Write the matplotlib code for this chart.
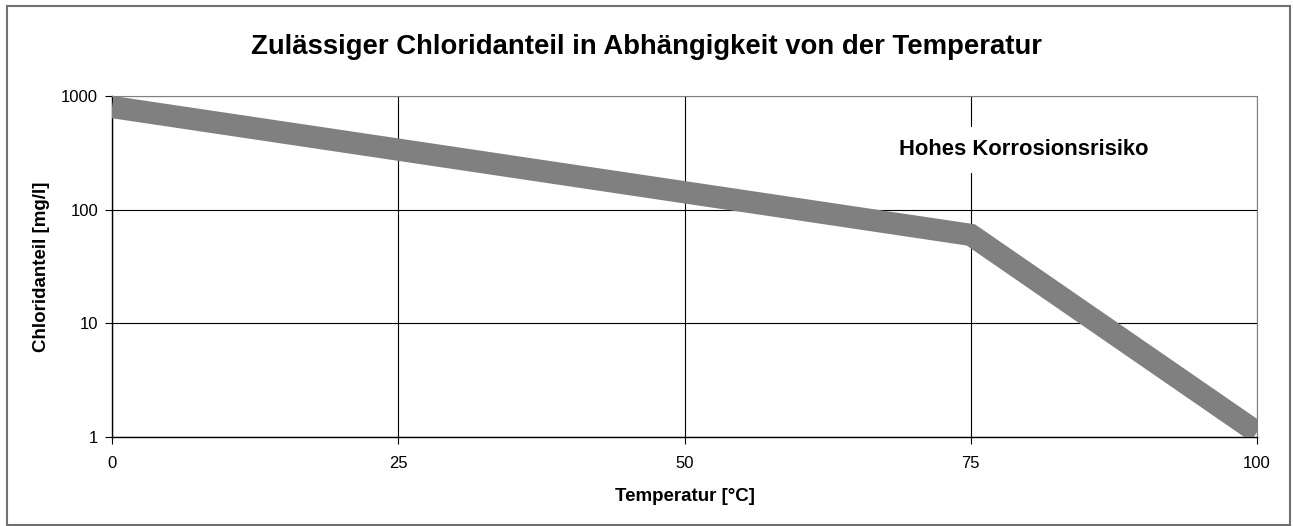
import matplotlib.pyplot as plt
from matplotlib.patches import Rectangle

temperature = [0, 75, 100]
chloride = [800, 60, 1.1]

x_ticks = [0, 25, 50, 75, 100]
y_ticks = [1, 10, 100, 1000]
y_ticklabels = ["1", "10", "100", "1000"]

plt.rcParams['font.family'] = ['Liberation Sans', 'DejaVu Sans']

fig = plt.figure(figsize=(12.93, 5.26), dpi=100)
ax = fig.add_axes([112 / 1293, 1 - 437 / 526, (1257 - 112) / 1293, (437 - 96) / 526])

ax.plot(temperature, chloride, color='#808080', linewidth=16, solid_joinstyle='miter',
        solid_capstyle='butt', zorder=3)

ax.set_yscale('log')
ax.set_xlim(0, 100)
ax.set_ylim(1, 1000)
ax.set_xticks(x_ticks)
ax.set_xticklabels([str(t) for t in x_ticks])
ax.set_yticks(y_ticks)
ax.set_yticklabels(y_ticklabels)
ax.minorticks_off()
ax.tick_params(axis='both', labelsize=12, length=5, width=0.8, direction='out', colors='black')
ax.tick_params(axis='x', pad=9)
ax.tick_params(axis='y', pad=5)

ax.grid(True, color='black', linewidth=0.8, zorder=1)
for side in ['top', 'right']:
    ax.spines[side].set_color('#808080')
    ax.spines[side].set_linewidth(0.8)
for side in ['left', 'bottom']:
    ax.spines[side].set_color('black')
    ax.spines[side].set_linewidth(1.0)

ax.text(79.6, 335, "Hohes Korrosionsrisiko", fontsize=15.8, fontweight='bold',
        ha='center', va='center', zorder=4,
        bbox=dict(facecolor='white', edgecolor='none', pad=9))

ax.set_xlabel("Temperatur [°C]", fontsize=13.5, fontweight='bold', labelpad=12)
ax.set_ylabel("Chloridanteil [mg/l]", fontsize=13.5, fontweight='bold', labelpad=8)

fig.text(0.5, 1 - 47 / 526, "Zulässiger Chloridanteil in Abhängigkeit von der Temperatur",
         fontsize=19.8, fontweight='bold', ha='center', va='center')

fig.patches.append(Rectangle((7 / 1293, 1 / 526), 1283 / 1293, 519 / 526, transform=fig.transFigure,
                             fill=False, edgecolor='#707070', linewidth=1.5))

fig.savefig("out.png", dpi=100)
